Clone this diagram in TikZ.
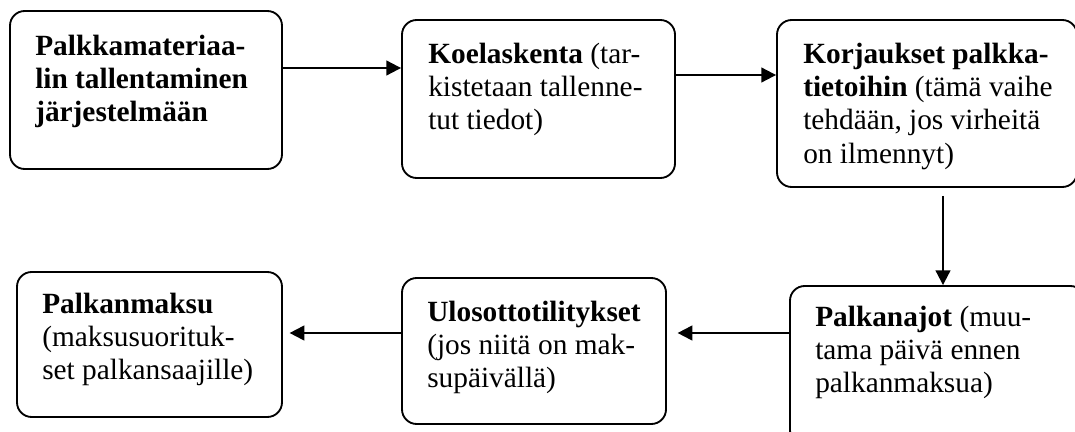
\documentclass[tikz,border=0pt]{standalone}
\usepackage{fontspec}
\setmainfont{Liberation Serif}
\usetikzlibrary{arrows.meta,fit}
\tikzset{
  box/.style={draw, line width=1.4pt, rounded corners=11pt, inner sep=0pt},
  txt/.style={align=left, inner sep=0pt, anchor=base west, font=\fontsize{22}{25}\selectfont},
  arr/.style={line width=1.5pt, -{Triangle[length=11pt,width=11pt]}}
}
\begin{document}
\begin{tikzpicture}[x=0.75pt,y=-0.75pt]
\clip (0,0) rectangle (1075,432);
\node[box, fit={(10,11) (282,169)}] (b1) {};
\node[box, fit={(402,20) (675,178)}] (b2) {};
\node[box, fit={(777,20) (1077,187)}] (b3) {};
\node[box, fit={(790,286) (1085,445)}] (b4) {};
\node[box, fit={(402,278) (666,424)}] (b5) {};
\node[box, fit={(17,272) (282,417)}] (b6) {};
\node[txt] (t1) at (35,121.7) {\textbf{Palkkamateriaa-}\\\textbf{lin tallentaminen}\\\textbf{järjestelmään}};
\node[txt] (t2) at (428,129.7) {\textbf{Koelaskenta} (tar-\\kistetaan tallenne-\\tut tiedot)};
\node[txt] (t3) at (803,163) {\textbf{Korjaukset palkka-}\\\textbf{tietoihin} (tämä vaihe\\tehdään, jos virheitä\\on ilmennyt)};
\node[txt] (t4) at (815,392.7) {\textbf{Palkanajot} (muu-\\tama päivä ennen\\palkanmaksua)};
\node[txt] (t5) at (427,387.7) {\textbf{Ulosottotilitykset}\\(jos niitä on mak-\\supäivällä)};
\node[txt] (t6) at (42,379.7) {\textbf{Palkanmaksu}\\(maksusuorituk-\\set palkansaajille)};
\coordinate (y1) at (0,68);
\coordinate (y2) at (0,75);
\coordinate (x3) at (943,0);
\coordinate (y4) at (0,333);
\draw[arr] (b1.east |- y1) -- (b2.west |- y1);
\draw[arr] (b2.east |- y2) -- (b3.west |- y2);
\draw[arr] ([yshift=-6pt]b3.south -| x3) -- (b4.north -| x3);
\draw[arr] (b4.west |- y4) -- ([xshift=8pt]b5.east |- y4);
\draw[arr] (b5.west |- y4) -- ([xshift=5pt]b6.east |- y4);
\end{tikzpicture}
\end{document}
